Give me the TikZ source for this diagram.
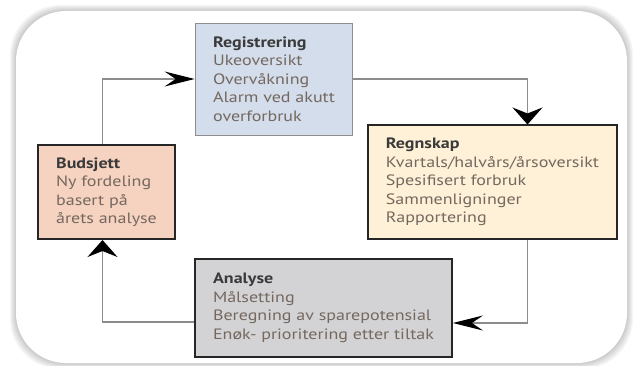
\documentclass[tikz,border=0pt]{standalone}
\usepackage{fontspec}
\setmainfont{PT Sans}[FakeStretch=1.2]
\usepackage{tikz}
\usetikzlibrary{arrows.meta,calc,positioning}
\definecolor{TitleInk}{HTML}{3A3A3A}
\definecolor{BodyInk}{HTML}{74685F}
\definecolor{FlowGray}{HTML}{8C8C8C}
\definecolor{RegBlue}{HTML}{D3DDEB}
\definecolor{RegEdge}{HTML}{8E8E8E}
\definecolor{AccCream}{HTML}{FEF1D8}
\definecolor{BudPeach}{HTML}{F6D3C0}
\definecolor{AnaGray}{HTML}{D3D3D5}
\definecolor{BoxEdge}{HTML}{262626}
\newcommand{\boxtitle}[1]{\textcolor{TitleInk}{\bfseries #1}}
\tikzset{
  stagebox/.style={
    rectangle,
    draw=BoxEdge,
    line width=2pt,
    align=left,
    text=BodyInk,
    inner xsep=18pt,
    inner ysep=6pt,
    font=\fontsize{15}{18.5}\selectfont
  },
  hflow/.style={
    draw=FlowGray,
    line width=1.2pt,
    -{Stealth[length=30pt,width=15pt,inset=11pt,fill=black,color=black]}
  },
  vflow/.style={
    draw=FlowGray,
    line width=1.2pt,
    -{Stealth[length=17pt,width=30pt,inset=6pt,fill=black,color=black]}
  }
}

\begin{document}
\begin{tikzpicture}[x=1pt,y=1pt]
  \useasboundingbox (0,0) rectangle (633,365);
  % frame with soft glow
  \foreach \g in {12,10,...,2}{
    \fill[black,opacity=0.035,rounded corners=50pt]
      ($(16,2)+(-\g/2,-\g/2)$) rectangle ($(627,354)+(\g/2,\g/2)$);
  }
  \fill[white,rounded corners=50pt] (16,2) rectangle (627,354);

  % stages
  \node[stagebox, fill=RegBlue, draw=RegEdge, line width=0.9pt,
        minimum width=156pt, minimum height=112pt]
    (registrering) at (274,286)
    {\boxtitle{Registrering}\\Ukeoversikt\\Overvåkning\\Alarm ved akutt\\overforbruk};
  \node[stagebox, fill=AccCream, minimum width=247pt, minimum height=113pt]
    (regnskap) at (492.5,183)
    {\boxtitle{Regnskap}\\Kvartals/halvårs/årsoversikt\\Spesifisert forbruk\\Sammenligninger\\Rapportering};
  \node[stagebox, fill=AnaGray, minimum width=251pt, minimum height=98pt]
    (analyse) at (323.5,57)
    {\boxtitle{Analyse}\\Målsetting\\Beregning av sparepotensial\\Enøk- prioritering etter tiltak};
  \node[stagebox, fill=BudPeach, minimum width=135pt, minimum height=94pt]
    (budsjett) at (106.5,173)
    {\boxtitle{Budsjett}\\Ny fordeling\\basert på\\årets analyse};

  % cycle
  \draw[hflow] ([xshift=-4pt]budsjett.north) |- (registrering.west);
  \draw[vflow] (registrering.east) -| ([xshift=35pt]regnskap.north);
  \draw[hflow] ([xshift=35pt]regnskap.south) |- ([yshift=-15pt]analyse.east);
  \draw[vflow] ([yshift=-14pt]analyse.west) -| ([xshift=-4pt]budsjett.south);
\end{tikzpicture}
\end{document}
